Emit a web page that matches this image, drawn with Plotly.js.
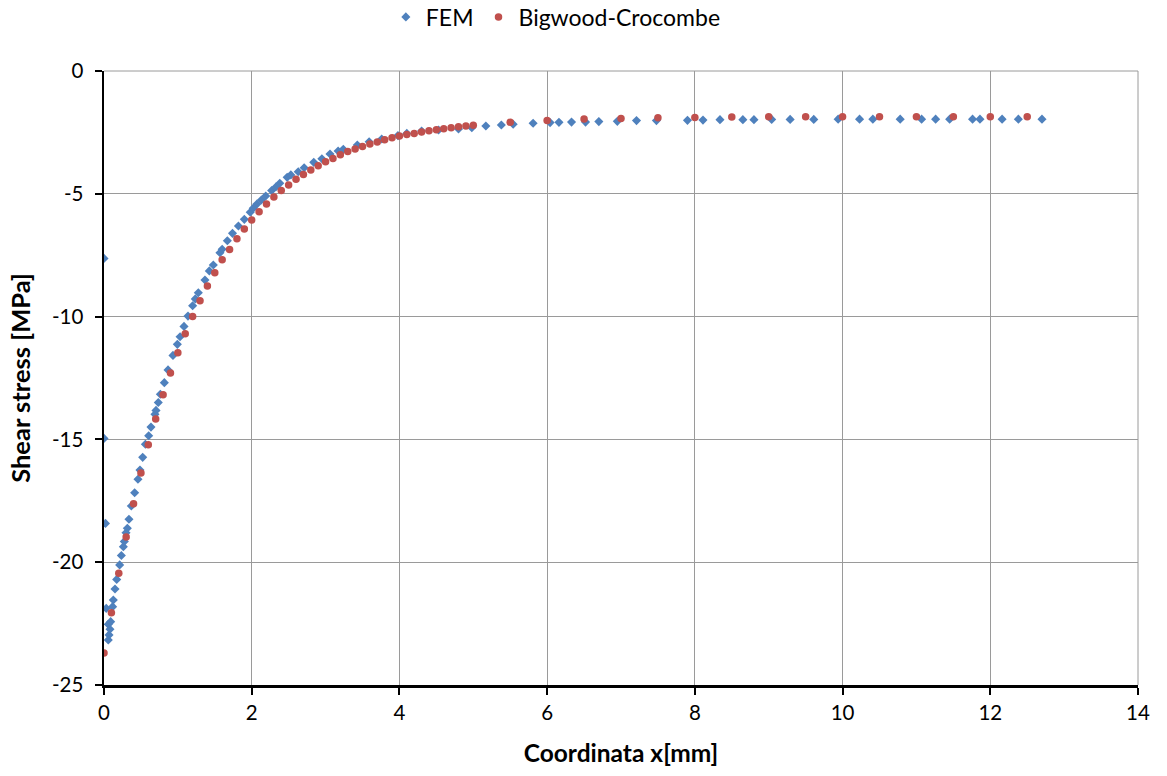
<!DOCTYPE html>
<html>
<head>
<meta charset="utf-8">
<script src="https://cdn.plot.ly/plotly-3.0.1.min.js"></script>
<style>
  html, body { margin: 0; padding: 0; background: #ffffff; }
  #chart { width: 1167px; height: 776px; }
</style>
</head>
<body>
<div id="chart"></div>
<script>
// FEM results (x in mm, shear stress in MPa)
const femX = [0, 0, 0.02, 0.03, 0.058, 0.058, 0.068, 0.081, 0.09, 0.117, 0.126, 0.149, 0.172, 0.212, 0.235, 0.262, 0.275, 0.298, 0.316, 0.338,
  0.37, 0.415, 0.46, 0.487, 0.524, 0.56, 0.605, 0.636, 0.69, 0.704, 0.735, 0.763, 0.817, 0.867, 0.934, 0.993, 1.03, 1.083, 1.137, 1.2,
  1.236, 1.277, 1.367, 1.426, 1.48, 1.57, 1.60, 1.67, 1.74, 1.82, 1.90, 1.98, 2.02, 2.07, 2.13, 2.19, 2.27, 2.33, 2.38, 2.48,
  2.53, 2.63, 2.71, 2.84, 2.95, 3.06, 3.17, 3.24, 3.43, 3.59, 3.76, 3.98, 4.10, 4.30, 4.53, 4.80, 4.98, 5.17, 5.38, 5.54,
  5.81, 6.04, 6.16, 6.33, 6.52, 6.70, 6.95, 7.21, 7.48, 7.90, 8.11, 8.34, 8.65, 8.80, 9.04, 9.29, 9.61, 9.94, 10.23, 10.41,
  10.78, 11.07, 11.26, 11.45, 11.76, 11.86, 12.16, 12.38, 12.70];
const femY = [-7.63, -14.96, -18.42, -21.88, -23.17, -22.53, -22.96, -22.73, -22.42, -21.81, -21.54, -21.09, -20.70, -20.11, -19.73, -19.37, -19.16, -18.80, -18.62, -18.25,
  -17.71, -17.17, -16.62, -16.25, -15.73, -15.20, -14.85, -14.50, -13.98, -13.82, -13.50, -13.16, -12.69, -12.17, -11.58, -11.13, -10.82, -10.40, -9.98, -9.56,
  -9.28, -9.03, -8.51, -8.14, -7.90, -7.40, -7.26, -6.91, -6.61, -6.31, -6.04, -5.75, -5.59, -5.42, -5.25, -5.09, -4.87, -4.71, -4.57, -4.33,
  -4.23, -4.10, -3.94, -3.72, -3.57, -3.38, -3.26, -3.19, -3.01, -2.88, -2.77, -2.63, -2.54, -2.44, -2.40, -2.36, -2.31, -2.24, -2.20, -2.17,
  -2.13, -2.10, -2.09, -2.08, -2.08, -2.06, -2.05, -2.02, -2.02, -2.01, -2.00, -1.98, -1.98, -1.98, -1.97, -1.97, -1.97, -1.96, -1.96, -1.96,
  -1.96, -1.96, -1.96, -1.96, -1.96, -1.96, -1.96, -1.96, -1.96];

// Bigwood-Crocombe analytical solution
const bcX = [0, 0.1, 0.2, 0.3, 0.4, 0.5, 0.6, 0.7, 0.8, 0.9, 1.0, 1.1, 1.2, 1.3, 1.4, 1.5, 1.6, 1.7, 1.8, 1.9,
  2.0, 2.1, 2.2, 2.3, 2.4, 2.5, 2.6, 2.7, 2.8, 2.9, 3.0, 3.1, 3.2, 3.3, 3.4, 3.5, 3.6, 3.7, 3.8, 3.9,
  4.0, 4.1, 4.2, 4.3, 4.4, 4.5, 4.6, 4.7, 4.8, 4.9, 5.0, 5.5, 6.0, 6.5, 7.0, 7.5, 8.0, 8.5, 9.0, 9.5,
  10.0, 10.5, 11.0, 11.5, 12.0, 12.5];
const bcY = [-23.70, -22.06, -20.45, -18.97, -17.62, -16.37, -15.22, -14.17, -13.18, -12.30, -11.47, -10.70, -10.00, -9.35, -8.75, -8.21, -7.69, -7.27, -6.83, -6.43,
  -6.07, -5.73, -5.42, -5.13, -4.87, -4.64, -4.41, -4.21, -4.03, -3.86, -3.69, -3.56, -3.41, -3.28, -3.18, -3.07, -2.97, -2.89, -2.80, -2.72,
  -2.65, -2.59, -2.54, -2.48, -2.43, -2.39, -2.35, -2.31, -2.27, -2.24, -2.21, -2.09, -2.02, -1.95, -1.93, -1.90, -1.89, -1.87, -1.86, -1.86,
  -1.86, -1.86, -1.86, -1.86, -1.86, -1.86];

const yTickVals = [-25, -20, -15, -10, -5, 0];
const yTickText = ["-25", "-20", "-15", "-10", "-5", "0"];
const xTickVals = [0, 2, 4, 6, 8, 10, 12, 14];
const xTickText = ["0", "2", "4", "6", "8", "10", "12", "14"];

const FONT = "Lato, 'Open Sans', 'Liberation Sans', sans-serif";

const traces = [
  {
    type: "scatter", mode: "markers", name: "FEM",
    x: femX, y: femY,
    marker: { symbol: "diamond", size: 7, color: "#4F81BD" }
  },
  {
    type: "scatter", mode: "markers", name: "Bigwood-Crocombe",
    x: bcX, y: bcY,
    marker: { symbol: "circle", size: 7.5, color: "#C0504D" }
  }
];

const layout = {
  width: 1167, height: 776,
  margin: { l: 104, r: 29, t: 71, b: 91, autoexpand: false },
  paper_bgcolor: "#ffffff", plot_bgcolor: "#ffffff",
  font: { family: FONT, size: 20, color: "#000000" },
  showlegend: true,
  legend: {
    orientation: "h", x: 0.437, xanchor: "center", y: 1.088, yanchor: "middle",
    font: { family: FONT, size: 23, color: "#000000" },
    itemsizing: "trace", itemwidth: 30
  },
  xaxis: {
    range: [0, 14], tickvals: xTickVals, ticktext: xTickText,
    showgrid: true, gridcolor: "#9a9a9a", gridwidth: 1,
    zeroline: false,
    showline: true, linecolor: "#000000", linewidth: 2.5,
    ticks: "outside", ticklen: 7, tickwidth: 2, tickcolor: "#000000",
    tickfont: { family: FONT, size: 20.5 },
    ticklabelstandoff: 1,
    automargin: false,
    title: { text: "<b>Coordinata x[mm]</b>", font: { family: FONT, size: 24.5 }, standoff: 22 }
  },
  yaxis: {
    range: [-25, 0], tickvals: yTickVals, ticktext: yTickText,
    showgrid: true, gridcolor: "#9a9a9a", gridwidth: 1,
    zeroline: false,
    showline: true, linecolor: "#000000", linewidth: 2.5,
    ticks: "outside", ticklen: 7, tickwidth: 2, tickcolor: "#000000",
    tickfont: { family: FONT, size: 20.5 },
    ticklabelstandoff: 7,
    automargin: false,
    title: { text: "<b>Shear stress [MPa]</b>", font: { family: FONT, size: 25.5 }, standoff: 14 }
  },
  shapes: [
    { type: "line", xref: "paper", yref: "paper", x0: 0, x1: 1, y0: 1, y1: 1, line: { color: "#9a9a9a", width: 1 } },
    { type: "line", xref: "paper", yref: "paper", x0: 1, x1: 1, y0: 0, y1: 1, line: { color: "#9a9a9a", width: 1 } }
  ]
};

Plotly.newPlot("chart", traces, layout, { displayModeBar: false, staticPlot: true });
</script>
</body>
</html>
